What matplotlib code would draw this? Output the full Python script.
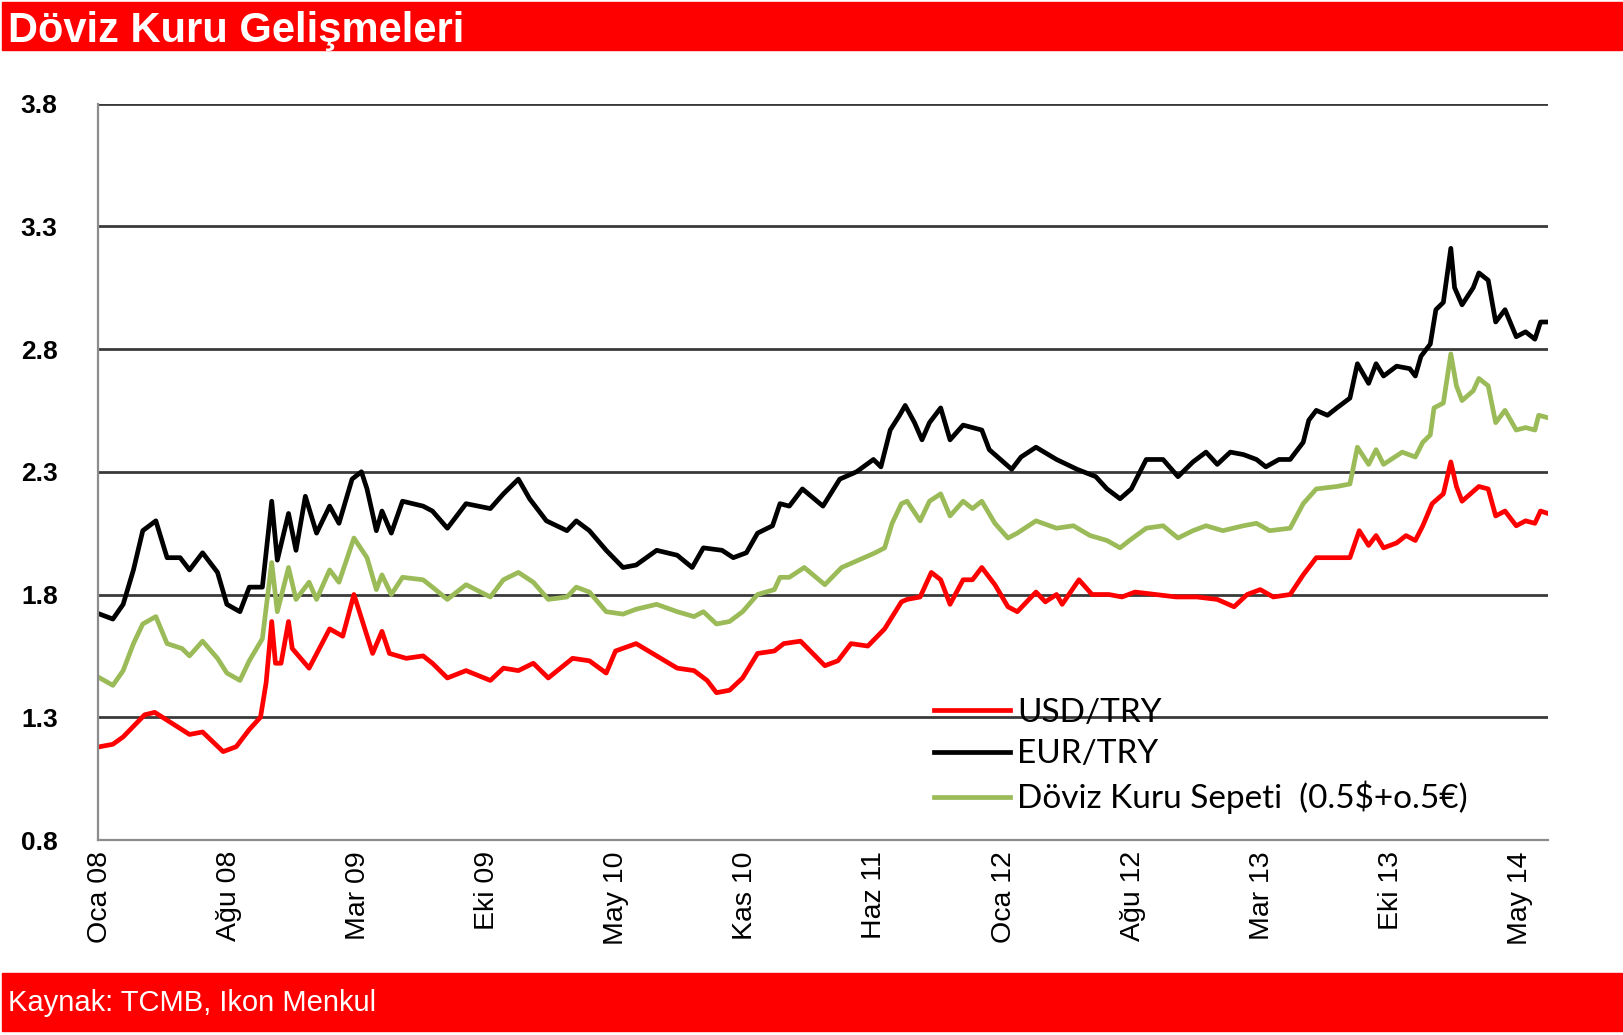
import matplotlib.pyplot as plt
from matplotlib.patches import Rectangle
import numpy as np

# time axis in months from Oca 08, as the points sit on the original chart
usd_t = [0.0, 0.7, 1.25, 2.4, 2.94, 4.8, 5.5, 6.6, 7.3, 8.0, 8.6, 8.9, 9.2, 9.4, 9.7,
         10.1, 10.3, 11.2, 12.3, 13.0, 13.6, 14.1, 14.6, 15.1, 15.5, 16.4, 17.3, 17.8,
         18.6, 19.6, 20.9, 21.6, 22.4, 23.2, 24.0, 25.3, 26.2, 27.1, 27.6, 28.7, 29.8,
         30.9, 31.8, 32.5, 33.0, 33.7, 34.4, 35.2, 36.1, 36.6, 37.5, 38.8, 39.5, 40.2,
         41.1, 42.0, 42.9, 43.2, 43.9, 44.5, 45.0, 45.5, 46.2, 46.7, 47.2, 47.9, 48.6,
         49.1, 50.1, 50.6, 51.2, 51.5, 52.4, 53.1, 54.0, 54.7, 55.4, 56.5, 57.6, 58.7,
         59.8, 60.7, 61.4, 62.1, 62.8, 63.7, 64.4, 65.1, 65.8, 66.9, 67.4, 67.9, 68.3,
         68.7, 69.4, 69.9, 70.4, 70.8, 71.3, 71.9, 72.3, 72.6, 72.9, 73.5, 73.8, 74.3,
         74.7, 75.2, 75.8, 76.3, 76.8, 77.1, 77.5]
usd = [1.18, 1.19, 1.22, 1.31, 1.32, 1.23, 1.24, 1.16, 1.18, 1.25, 1.30, 1.44, 1.69, 1.52, 1.52,
       1.69, 1.58, 1.50, 1.66, 1.63, 1.80, 1.68, 1.56, 1.65, 1.56, 1.54, 1.55, 1.52,
       1.46, 1.49, 1.45, 1.50, 1.49, 1.52, 1.46, 1.54, 1.53, 1.48, 1.57, 1.60, 1.55,
       1.50, 1.49, 1.45, 1.40, 1.41, 1.46, 1.56, 1.57, 1.60, 1.61, 1.51, 1.53, 1.60,
       1.59, 1.66, 1.77, 1.78, 1.79, 1.89, 1.86, 1.76, 1.86, 1.86, 1.91, 1.84, 1.75,
       1.73, 1.81, 1.77, 1.80, 1.76, 1.86, 1.80, 1.80, 1.79, 1.81, 1.80, 1.79, 1.79,
       1.78, 1.75, 1.80, 1.82, 1.79, 1.80, 1.88, 1.95, 1.95, 1.95, 2.06, 2.00, 2.04,
       1.99, 2.01, 2.04, 2.02, 2.08, 2.17, 2.21, 2.34, 2.24, 2.18, 2.22, 2.24, 2.23,
       2.12, 2.14, 2.08, 2.10, 2.09, 2.14, 2.13]

eur_t = [0.0, 0.7, 1.25, 1.8, 2.3, 3.0, 3.6, 4.3, 4.8, 5.5, 6.3, 6.8, 7.5, 8.0, 8.7,
         9.2, 9.5, 10.1, 10.5, 11.0, 11.6, 12.3, 12.8, 13.5, 14.0, 14.3, 14.8, 15.1,
         15.6, 16.2, 17.3, 17.8, 18.6, 19.6, 20.9, 21.6, 22.4, 23.0, 23.9, 25.0, 25.5,
         26.2, 27.1, 28.0, 28.7, 29.8, 30.9, 31.7, 32.3, 33.3, 33.9, 34.6, 35.2, 36.0,
         36.4, 36.9, 37.6, 38.7, 39.6, 40.5, 41.4, 41.8, 42.3, 42.8, 43.1, 43.6, 44.0,
         44.4, 45.0, 45.5, 46.2, 47.2, 47.6, 48.2, 48.8, 49.3, 50.1, 51.2, 52.3, 53.3,
         53.9, 54.6, 55.2, 56.0, 56.9, 57.7, 58.5, 59.2, 59.8, 60.5, 61.2, 61.9, 62.4,
         63.1, 63.7, 64.4, 64.7, 65.1, 65.7, 66.2, 66.9, 67.3, 67.9, 68.3, 68.7, 69.4,
         70.1, 70.4, 70.7, 71.2, 71.5, 71.9, 72.3, 72.5, 72.9, 73.5, 73.8, 74.3, 74.7,
         75.2, 75.8, 76.3, 76.8, 77.1, 77.5]
eur = [1.72, 1.70, 1.76, 1.90, 2.06, 2.10, 1.95, 1.95, 1.90, 1.97, 1.89, 1.76, 1.73, 1.83, 1.83,
       2.18, 1.94, 2.13, 1.98, 2.20, 2.05, 2.16, 2.09, 2.27, 2.30, 2.23, 2.06, 2.14,
       2.05, 2.18, 2.16, 2.14, 2.07, 2.17, 2.15, 2.21, 2.27, 2.19, 2.10, 2.06, 2.10,
       2.06, 1.98, 1.91, 1.92, 1.98, 1.96, 1.91, 1.99, 1.98, 1.95, 1.97, 2.05, 2.08,
       2.17, 2.16, 2.23, 2.16, 2.27, 2.30, 2.35, 2.32, 2.47, 2.53, 2.57, 2.50, 2.43,
       2.50, 2.56, 2.43, 2.49, 2.47, 2.39, 2.35, 2.31, 2.36, 2.40, 2.35, 2.31, 2.28,
       2.23, 2.19, 2.23, 2.35, 2.35, 2.28, 2.34, 2.38, 2.33, 2.38, 2.37, 2.35, 2.32,
       2.35, 2.35, 2.42, 2.51, 2.55, 2.53, 2.56, 2.60, 2.74, 2.66, 2.74, 2.69, 2.73,
       2.72, 2.69, 2.77, 2.82, 2.96, 2.99, 3.21, 3.05, 2.98, 3.05, 3.11, 3.08, 2.91,
       2.96, 2.85, 2.87, 2.84, 2.91, 2.91]

bsk_t = [0.0, 0.7, 1.25, 1.8, 2.3, 3.0, 3.6, 4.4, 4.8, 5.5, 6.3, 6.8, 7.5, 8.0, 8.7,
         9.2, 9.5, 10.1, 10.5, 11.2, 11.6, 12.3, 12.8, 13.6, 14.3, 14.8, 15.1, 15.6,
         16.2, 17.3, 17.8, 18.6, 19.6, 20.9, 21.6, 22.4, 23.2, 24.0, 25.0, 25.5, 26.2,
         27.1, 28.0, 28.7, 29.8, 30.9, 31.8, 32.3, 33.0, 33.7, 34.4, 35.2, 36.1, 36.4,
         36.9, 37.7, 38.8, 39.7, 40.6, 41.5, 42.0, 42.4, 42.9, 43.2, 43.9, 44.4, 45.0,
         45.5, 46.2, 46.7, 47.2, 47.9, 48.6, 49.1, 50.1, 51.2, 52.1, 53.0, 53.9, 54.6,
         55.1, 56.0, 56.9, 57.7, 58.5, 59.2, 60.1, 61.2, 61.9, 62.6, 63.7, 64.4, 65.1,
         66.2, 66.9, 67.3, 67.9, 68.3, 68.7, 69.7, 70.4, 70.8, 71.2, 71.4, 71.9, 72.3,
         72.6, 72.9, 73.5, 73.8, 74.3, 74.7, 75.2, 75.8, 76.3, 76.8, 77.0, 77.5]
bsk = [1.46, 1.43, 1.49, 1.60, 1.68, 1.71, 1.60, 1.58, 1.55, 1.61, 1.54, 1.48, 1.45, 1.53, 1.62,
       1.93, 1.73, 1.91, 1.78, 1.85, 1.78, 1.90, 1.85, 2.03, 1.95, 1.82, 1.88, 1.80,
       1.87, 1.86, 1.83, 1.78, 1.84, 1.79, 1.86, 1.89, 1.85, 1.78, 1.79, 1.83, 1.81,
       1.73, 1.72, 1.74, 1.76, 1.73, 1.71, 1.73, 1.68, 1.69, 1.73, 1.80, 1.82, 1.87,
       1.87, 1.91, 1.84, 1.91, 1.94, 1.97, 1.99, 2.09, 2.17, 2.18, 2.10, 2.18, 2.21,
       2.12, 2.18, 2.15, 2.18, 2.09, 2.03, 2.05, 2.10, 2.07, 2.08, 2.04, 2.02, 1.99,
       2.02, 2.07, 2.08, 2.03, 2.06, 2.08, 2.06, 2.08, 2.09, 2.06, 2.07, 2.17, 2.23,
       2.24, 2.25, 2.40, 2.33, 2.39, 2.33, 2.38, 2.36, 2.42, 2.45, 2.56, 2.58, 2.78,
       2.65, 2.59, 2.63, 2.68, 2.65, 2.50, 2.55, 2.47, 2.48, 2.47, 2.53, 2.52]

tick_labels = ['Oca 08', 'Ağu 08', 'Mar 09', 'Eki 09', 'May 10', 'Kas 10',
               'Haz 11', 'Oca 12', 'Ağu 12', 'Mar 13', 'Eki 13', 'May 14']
names = ['USD/TRY', 'EUR/TRY', 'Döviz Kuru Sepeti  (0.5$+o.5€)']

fig = plt.figure(figsize=(16.24, 10.35), dpi=100)
ax = fig.add_axes([0.0603, 0.1884, 0.8929, 0.7116])

ax.plot(usd_t, usd, color='#ff0000', lw=3.4, label=names[0])
ax.plot(eur_t, eur, color='black', lw=3.4, label=names[1])
ax.plot(bsk_t, bsk, color='#9bbb59', lw=3.4, label=names[2])

ax.set_ylim(0.8, 3.8)
ax.set_xlim(-0.1, 77.5)
ax.set_yticks(np.arange(0.8, 3.81, 0.5))
ax.set_yticklabels(['%.1f' % v for v in np.arange(0.8, 3.81, 0.5)],
                   fontsize=19, fontweight='bold', family='Liberation Sans')
ax.set_xticks(np.arange(12) * 76 / 11)
ax.set_xticklabels(tick_labels, rotation=90, fontsize=20.5, family='Liberation Sans',
                   ha='center', va='top')
ax.tick_params(axis='both', length=0)
ax.tick_params(axis='y', pad=29)
ax.tick_params(axis='x', pad=8)

for v in np.arange(1.3, 3.81, 0.5):
    ax.axhline(v, color='#3a3a3a', lw=2.0, zorder=0)
for s in ['top', 'right']:
    ax.spines[s].set_visible(False)
ax.spines['left'].set_color('#8c8c8c')
ax.spines['bottom'].set_color('#8c8c8c')
ax.spines['left'].set_linewidth(1.6)
ax.spines['bottom'].set_linewidth(1.6)

ax.legend(loc='upper left', bbox_to_anchor=(934 / 1624, 1 - 698 / 1035),
          bbox_transform=fig.transFigure, frameon=False, borderpad=0,
          borderaxespad=0, handlelength=2.28, handletextpad=0.21,
          labelspacing=0.34, prop={'family': 'Lato', 'size': 24})

# red header and footer bars
fig.patches.append(Rectangle((2 / 1624, 0.9517), 1620 / 1624, 0.0464,
                             transform=fig.transFigure, color='#ff0000'))
fig.patches.append(Rectangle((2 / 1624, 0.0039), 1620 / 1624, 0.056,
                             transform=fig.transFigure, color='#ff0000'))
fig.text(0.005, 0.970, 'Döviz Kuru Gelişmeleri', color='white', fontsize=30,
         fontweight='bold', family='Liberation Sans', va='center', ha='left')
fig.text(0.005, 0.031, 'Kaynak: TCMB, Ikon Menkul', color='white', fontsize=21,
         family='Liberation Sans', va='center', ha='left')

plt.savefig('out.png', dpi=100)
